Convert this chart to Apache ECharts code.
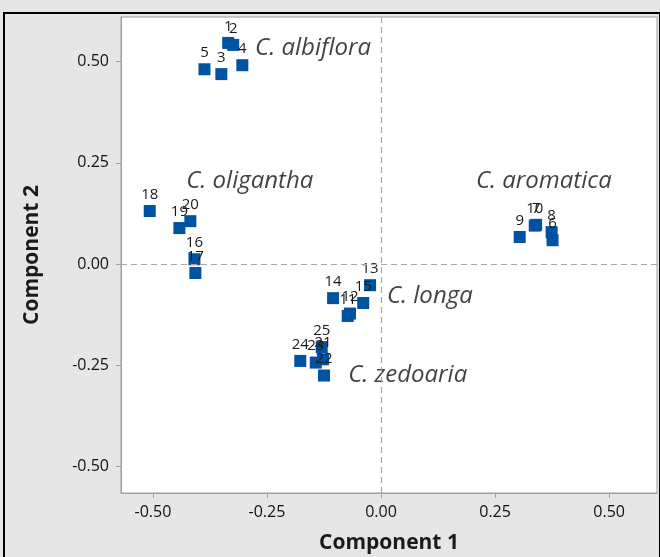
<!DOCTYPE html>
<html><head><meta charset="utf-8">
<script src="https://cdn.jsdelivr.net/npm/echarts@6/dist/echarts.min.js"></script>
<style>html,body{margin:0;padding:0;background:#e6e6e6}#c{width:660px;height:557px}</style>
</head><body><div id="c"></div>
<script>
// sample ids, PC1 scores, PC2 scores
const ids = ['1','2','3','4','5','6','7','8','9','10','11','12','13','14','15','16','17','18','19','20','21','22','23','24','25'];
const comp1 = [-0.335,-0.324,-0.350,-0.304,-0.387,0.376,0.340,0.374,0.304,0.337,-0.073,-0.068,-0.024,-0.105,-0.039,-0.409,-0.407,-0.507,-0.442,-0.418,-0.127,-0.125,-0.143,-0.177,-0.130];
const comp2 = [0.546,0.541,0.469,0.491,0.481,0.059,0.097,0.079,0.067,0.095,-0.128,-0.122,-0.052,-0.084,-0.096,0.012,-0.022,0.131,0.089,0.106,-0.235,-0.275,-0.243,-0.239,-0.205];
// group annotations
const groupNames = ['C. albiflora','C. oligantha','C. aromatica','C. longa','C. zedoaria'];
const groupX = [-0.276,-0.427,0.208,0.013,-0.072];
const groupY = [0.533,0.205,0.205,-0.079,-0.274];
const ticks = [-0.50,-0.25,0.00,0.25,0.50];

const chart = echarts.init(document.getElementById('c'));
const pts = ids.map((id,i)=>({name:id,value:[comp1[i],comp2[i]]}));
const grp = groupNames.map((n,i)=>({name:n,value:[groupX[i],groupY[i]]}));
const fmt = v => v.toFixed(2);
const axisCommon = {
  type:'value',
  axisLine:{show:true,onZero:false,lineStyle:{color:'#a0a0a0',width:1}},
  axisTick:{show:true,length:5,lineStyle:{color:'#a0a0a0'},customValues:ticks},
  axisLabel:{customValues:ticks,formatter:fmt,color:'#111',fontSize:16,fontFamily:'Open Sans'},
  splitLine:{show:false},
  nameLocation:'middle',
  nameTextStyle:{fontSize:21,fontWeight:'bold',color:'#1a1a1a',fontFamily:'Open Sans'}
};
chart.setOption({
  backgroundColor:'#e6e6e6',
  animation:false,
  graphic:[
    {type:'rect',shape:{x:121,y:17,width:536,height:476},style:{fill:'#fff'},z:-10,silent:true},
    {type:'rect',shape:{x:4,y:13,width:656,height:560},style:{fill:'none',stroke:'#000',lineWidth:2},z:100,silent:true},
    {type:'rect',shape:{x:121,y:17,width:536,height:476},style:{fill:'none',stroke:'#a0a0a0',lineWidth:1},z:50,silent:true}
  ],
  grid:{left:121,top:17,right:3,bottom:64,containLabel:false,outerBoundsMode:'none'},
  xAxis:Object.assign({},axisCommon,{min:-0.57,max:0.605,name:'Component 1',nameGap:40,
    axisLabel:Object.assign({},axisCommon.axisLabel,{margin:11})}),
  yAxis:Object.assign({},axisCommon,{min:-0.565,max:0.61,name:'Component 2',nameGap:78,
    axisLabel:Object.assign({},axisCommon.axisLabel,{margin:12})}),
  series:[
    {type:'scatter',data:pts,symbol:'rect',symbolSize:12,
     itemStyle:{color:'#0052a2',opacity:1},
     label:{show:true,position:'top',distance:3,formatter:'{b}',fontSize:15,color:'#1a1a1a',fontFamily:'Open Sans'},
     markLine:{silent:true,symbol:'none',label:{show:false},
       lineStyle:{type:[6,4],color:'#a8a8a8',width:1.2},
       data:[{xAxis:0},{yAxis:0}]},
     z:3},
    {type:'scatter',data:grp,symbolSize:0,
     label:{show:true,position:'right',distance:0,formatter:'{b}',fontSize:24,fontStyle:'italic',color:'#111',fontFamily:'Open Sans'},
     z:4}
  ]
});
</script></body></html>
